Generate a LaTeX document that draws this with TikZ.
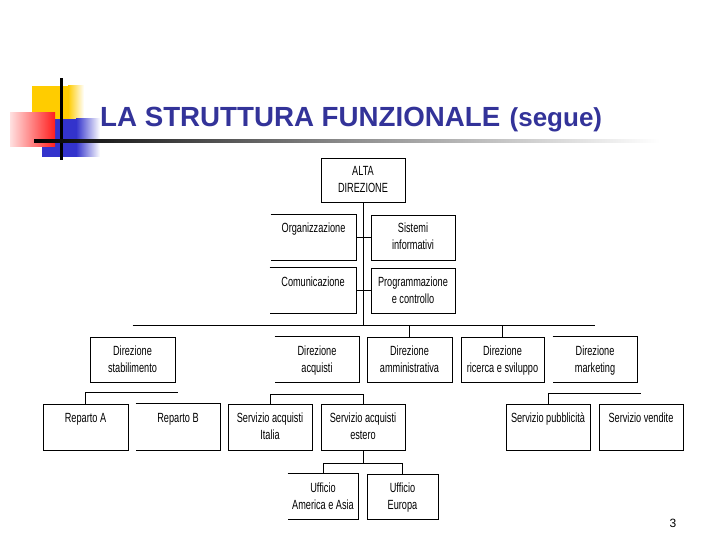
\documentclass[tikz,border=0pt]{standalone}
\usepackage{fontspec}
\setmainfont{Liberation Sans}
\newfontfamily\bfnt[FakeStretch=0.69]{Liberation Sans}
\newfontfamily\tfnt{Liberation Sans}
\definecolor{titleblue}{RGB}{51,51,153}
\definecolor{decoyellow}{RGB}{255,204,0}
\definecolor{decoblue}{RGB}{51,51,204}
\definecolor{decored}{RGB}{255,30,30}
\newcommand{\bt}[3]{\parbox[c][#2pt][t]{#1pt}{\centering\rule{0pt}{18pt}#3}}
\tikzset{
  box/.style={draw, line width=0.9pt, inner sep=0pt, font=\bfnt\fontsize{13.3}{17}\selectfont},
  obox/.style={box, draw=none},
  conn/.style={line width=0.9pt},
}
\begin{document}
\begin{tikzpicture}[x=1pt,y=-1pt]
\useasboundingbox (0,0) rectangle (720,540);
% header decoration
\fill[decoyellow] (32,86) rectangle (68,140);
\shade[left color=decoyellow, right color=white] (68,86) rectangle (84,140);
\fill[decoblue] (42,119) rectangle (76,157);
\shade[left color=decoblue, right color=white] (76,119) rectangle (100,157);
\shade[left color=red!12, right color=decored] (10,113) rectangle (55,147);
\fill[black] (60,78) rectangle (62.5,160);
\shade[left color=black, right color=white, middle color=black!45] (34,139.5) rectangle (660,142.5);
% title
\node[anchor=base west, inner sep=0pt, text=titleblue, font=\tfnt\bfseries\fontsize{27.7}{30}\selectfont] (title) at (100,127) {LA STRUTTURA FUNZIONALE};
\node[anchor=base west, inner sep=0pt, text=titleblue, font=\tfnt\bfseries\fontsize{26}{28}\selectfont] (segue) at ([xshift=9pt]title.base east) {(segue)};
% boxes
\node[box] (alta) at (363,180) {\bt{84}{44}{ALTA\\DIREZIONE}};
\node[obox] (org) at (313.5,237.5) {\bt{85}{45}{Organizzazione}};
\node[box] (sis) at (413,237.5) {\bt{84}{45}{Sistemi\\informativi}};
\node[obox] (com) at (313,290.5) {\bt{86}{45}{Comunicazione}};
\node[box] (prog) at (413,290.5) {\bt{84}{45}{Programmazione\\e controllo}};
\node[box] (stab) at (132.5,359.5) {\bt{85}{45}{Direzione\\stabilimento}};
\node[obox] (acq) at (317,359.5) {\bt{84}{45}{Direzione\\acquisti}};
\node[box] (amm) at (409.5,359.5) {\bt{85}{45}{Direzione\\amministrativa}};
\node[box] (ric) at (502.5,359.5) {\bt{83}{45}{Direzione\\ricerca e sviluppo}};
\node[obox] (mkt) at (595,359.5) {\bt{84}{45}{Direzione\\marketing}};
\node[box] (repA) at (85.5,427) {\bt{85}{46}{Reparto A}};
\node[obox] (repB) at (178,427) {\bt{84}{46}{Reparto B}};
\node[box] (ita) at (270,427) {\bt{84}{46}{Servizio acquisti\\Italia}};
\node[box] (est) at (363,427) {\bt{84}{46}{Servizio acquisti\\estero}};
\node[box] (pub) at (548,427) {\bt{84}{46}{Servizio pubblicità}};
\node[box] (ven) at (641,427) {\bt{84}{46}{Servizio vendite}};
\node[obox] (ame) at (323,496.5) {\bt{70}{45}{Ufficio\\America e Asia}};
\node[box] (eur) at (402.5,496.5) {\bt{71}{45}{Ufficio\\Europa}};
% open boxes
\foreach \b in {org,com,acq,mkt,repB,ame}{
  \draw[conn] (\b.north west) -- (\b.north east) -- (\b.south east) -- (\b.south west);
}
% bus coordinates
\coordinate (busL) at (stab.north |- 0,325);
\coordinate (busR) at (mkt.north |- 0,325);
\coordinate (repbus) at (repB.north |- 0,392);
\coordinate (acqbus) at (0,394);
\coordinate (mktbus) at (ven.north |- 0,393);
\coordinate (ufbus) at (0,463);
% connectors
\draw[conn] (busL) -- (busR);
\draw[conn] (alta.south) -- (alta.south |- busL);
\draw[conn] (org.east) -- (sis.west);
\draw[conn] (com.east) -- (prog.west);
\draw[conn] (amm.north) -- (amm.north |- busL);
\draw[conn] (ric.north) -- (ric.north |- busL);
\draw[conn] (repA.north) |- (repbus);
\draw[conn] (ita.north) -- (ita.north |- acqbus) -- (est.north |- acqbus) -- (est.north);
\draw[conn] (pub.north) |- (mktbus);
\draw[conn] (est.south) -- (est.south |- ufbus);
\draw[conn] (ame.north) -- (ame.north |- ufbus) -- (eur.north |- ufbus) -- (eur.north);
% page number
\node[inner sep=0pt, font=\tfnt\fontsize{12}{14}\selectfont] (pnum) at (673,523) {3};
\end{tikzpicture}
\end{document}
